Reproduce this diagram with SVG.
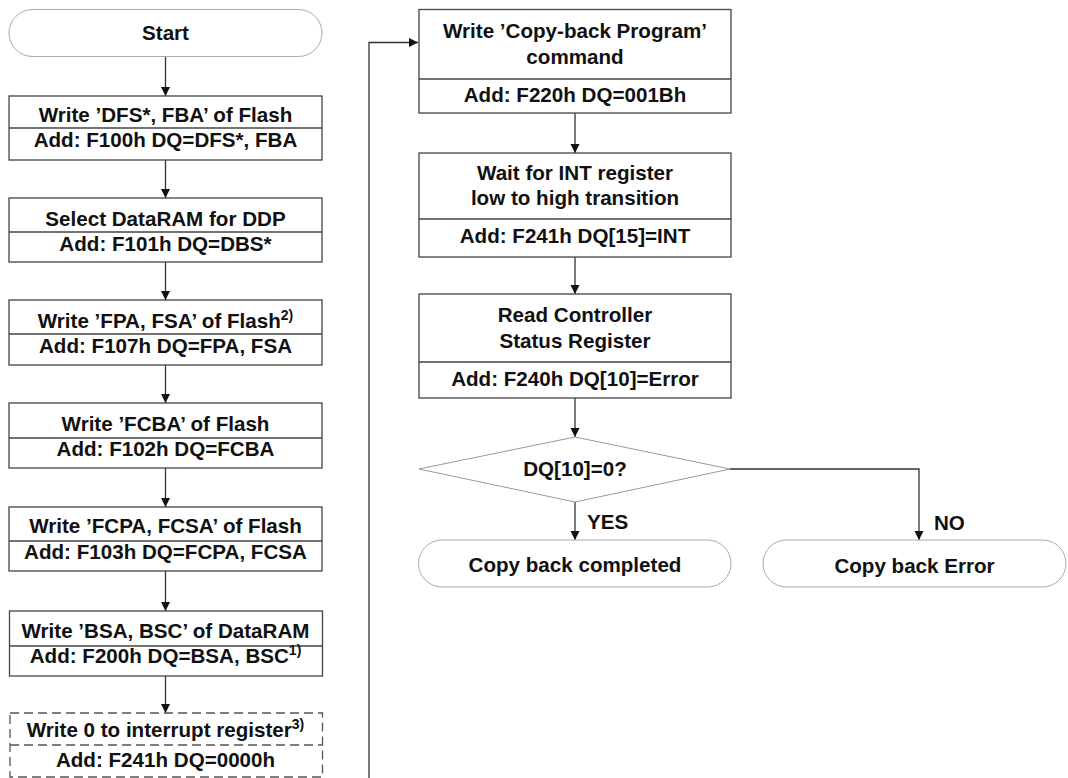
<svg xmlns="http://www.w3.org/2000/svg" width="1068" height="778" viewBox="0 0 1068 778">
<defs>
<marker id="ah" viewBox="0 0 10 10" refX="10" refY="5" markerWidth="9" markerHeight="10" markerUnits="userSpaceOnUse" orient="auto">
<path d="M0,0 L10,5 L0,10 z" fill="#111"/>
</marker>
<style>
.box{fill:#fff;stroke:#444;stroke-width:1.3}
.div{stroke:#444;stroke-width:1.3}
.dash{fill:#fff;stroke:#555;stroke-width:1.3;stroke-dasharray:9 5}
.term{fill:#fff;stroke:#aaa;stroke-width:1}
.dia{fill:#fff;stroke:#999;stroke-width:1}
.t{font-family:"Liberation Sans",Arial,sans-serif;font-weight:bold;font-size:20.6px;fill:#111;text-anchor:middle}
.lbl{font-family:"Liberation Sans",Arial,sans-serif;font-weight:bold;font-size:20.6px;fill:#111}
.sup{font-size:14px}
.c{fill:none;stroke:#333;stroke-width:1.3;marker-end:url(#ah)}
</style>
</defs>
<rect width="1068" height="778" fill="#fff"/>

<g id="connectors">
<path class="c" d="M165.5,57 V96"/>
<path class="c" d="M165.5,160 V198"/>
<path class="c" d="M165.5,262 V300"/>
<path class="c" d="M165.5,365 V403"/>
<path class="c" d="M165.5,468 V507"/>
<path class="c" d="M165.5,571 V611"/>
<path class="c" d="M165.5,676 V713"/>
<path class="c" d="M369,778 V42.5 H418"/>
<path class="c" d="M575,113 V153"/>
<path class="c" d="M575,257 V294"/>
<path class="c" d="M575,398 V437"/>
<path class="c" d="M575,502 V540"/>
<path class="c" d="M730,469 H919 V540"/>
<text class="lbl" x="587" y="529">YES</text>
<text class="lbl" x="934" y="530">NO</text>
</g>

<g id="start">
<rect class="term" x="9" y="9.5" width="313" height="47" rx="23.5"/>
<text class="t" x="165.5" y="40">Start</text>
</g>

<g id="n1">
<rect class="box" x="9" y="96" width="313" height="64"/>
<line class="div" x1="9" y1="128" x2="322" y2="128"/>
<text class="t" x="165.5" y="122">Write ’DFS*, FBA’ of Flash</text>
<text class="t" x="165.5" y="147">Add: F100h DQ=DFS*, FBA</text>
</g>

<g id="n2">
<rect class="box" x="9" y="198" width="313" height="64"/>
<line class="div" x1="9" y1="232" x2="322" y2="232"/>
<text class="t" x="165.5" y="226">Select DataRAM for DDP</text>
<text class="t" x="165.5" y="251">Add: F101h DQ=DBS*</text>
</g>

<g id="n3">
<rect class="box" x="9" y="300" width="313" height="65"/>
<line class="div" x1="9" y1="334" x2="322" y2="334"/>
<text class="t" x="165.5" y="328">Write ’FPA, FSA’ of Flash<tspan class="sup" dy="-8">2)</tspan></text>
<text class="t" x="165.5" y="353">Add: F107h DQ=FPA, FSA</text>
</g>

<g id="n4">
<rect class="box" x="9" y="403" width="313" height="65"/>
<line class="div" x1="9" y1="438" x2="322" y2="438"/>
<text class="t" x="165.5" y="431">Write ’FCBA’ of Flash</text>
<text class="t" x="165.5" y="456">Add: F102h DQ=FCBA</text>
</g>

<g id="n5">
<rect class="box" x="9" y="507" width="313" height="64"/>
<line class="div" x1="9" y1="541" x2="322" y2="541"/>
<text class="t" x="165.5" y="533">Write ’FCPA, FCSA’ of Flash</text>
<text class="t" x="165.5" y="559">Add: F103h DQ=FCPA, FCSA</text>
</g>

<g id="n6">
<rect class="box" x="9.5" y="611" width="313" height="65"/>
<line class="div" x1="9.5" y1="646" x2="322.5" y2="646"/>
<text class="t" x="165.5" y="638">Write ’BSA, BSC’ of DataRAM</text>
<text class="t" x="165.5" y="663">Add: F200h DQ=BSA, BSC<tspan class="sup" dy="-8">1)</tspan></text>
</g>

<g id="n7">
<rect class="dash" x="10" y="713" width="312.5" height="64"/>
<line class="dash" x1="10" y1="745" x2="322.5" y2="745"/>
<text class="t" x="165.5" y="737">Write 0 to interrupt register<tspan class="sup" dy="-8">3)</tspan></text>
<text class="t" x="165.5" y="767">Add: F241h DQ=0000h</text>
</g>

<g id="r1">
<rect class="box" x="419" y="9.5" width="312" height="103.5"/>
<line class="div" x1="419" y1="79" x2="731" y2="79"/>
<text class="t" x="575" y="38">Write ’Copy-back Program’</text>
<text class="t" x="575" y="64">command</text>
<text class="t" x="575" y="102">Add: F220h DQ=001Bh</text>
</g>

<g id="r2">
<rect class="box" x="419" y="153" width="312" height="104"/>
<line class="div" x1="419" y1="219" x2="731" y2="219"/>
<text class="t" x="575" y="180">Wait for INT register</text>
<text class="t" x="575" y="205">low to high transition</text>
<text class="t" x="575" y="243">Add: F241h DQ[15]=INT</text>
</g>

<g id="r3">
<rect class="box" x="419" y="294" width="312" height="104"/>
<line class="div" x1="419" y1="362" x2="731" y2="362"/>
<text class="t" x="575" y="322">Read Controller</text>
<text class="t" x="575" y="348">Status Register</text>
<text class="t" x="575" y="386">Add: F240h DQ[10]=Error</text>
</g>

<g id="decision">
<polygon class="dia" points="575,437 730,469 575,502 419,469"/>
<text class="t" x="575" y="476">DQ[10]=0?</text>
</g>

<g id="done">
<rect class="term" x="418.5" y="540" width="312.5" height="47" rx="23.5"/>
<text class="t" x="575" y="572">Copy back completed</text>
</g>

<g id="error">
<rect class="term" x="763" y="540" width="303" height="47" rx="23.5"/>
<text class="t" x="914.5" y="573">Copy back Error</text>
</g>
</svg>
